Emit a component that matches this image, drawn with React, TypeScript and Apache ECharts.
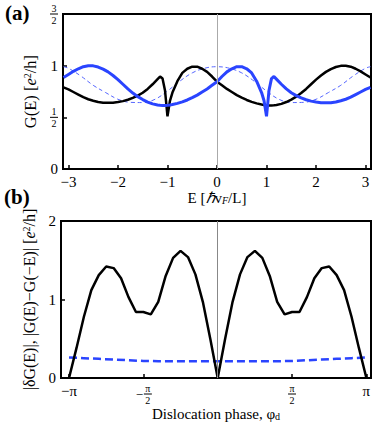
import React, { useEffect, useRef } from 'react';
import * as echarts from 'echarts';

const FONT = '"Liberation Serif", "Times New Roman", serif';

// ---------- Panel (a): conductance vs energy ----------
const energies = [
  -3.1, -3.0, -2.9, -2.8, -2.7, -2.6, -2.5, -2.4, -2.3, -2.2, -2.1, -2.0, -1.9, -1.8, -1.7, -1.6, -1.5, -1.4, -1.3,
  -1.2, -1.15, -1.1, -1.05, -1.0, -0.95, -0.9,
  -0.8, -0.7, -0.6, -0.5, -0.4, -0.3, -0.2, -0.1,
  0,
  0.1, 0.2, 0.3, 0.4, 0.5, 0.6, 0.7, 0.8,
  0.9, 0.95, 1.0, 1.05, 1.1, 1.15, 1.2,
  1.3, 1.4, 1.5, 1.6, 1.7, 1.8, 1.9, 2.0, 2.1, 2.2, 2.3, 2.4, 2.5, 2.6, 2.7, 2.8, 2.9, 3.0, 3.1,
];
const gBlack = [
  0.79, 0.77, 0.745, 0.72, 0.695, 0.675, 0.66, 0.648, 0.642, 0.64, 0.642, 0.648, 0.657, 0.67, 0.688, 0.71, 0.738, 0.775, 0.82,
  0.87, 0.895, 0.875, 0.76, 0.51, 0.66, 0.74,
  0.85, 0.93, 0.97, 0.99, 0.99, 0.97, 0.94, 0.895,
  0.845,
  0.81, 0.775, 0.745, 0.715, 0.69, 0.668, 0.65, 0.635,
  0.624, 0.62, 0.617, 0.615, 0.615, 0.616, 0.62,
  0.63, 0.648, 0.672, 0.7, 0.735, 0.775, 0.82, 0.865, 0.905, 0.94, 0.967, 0.987, 0.998, 1.0, 0.99, 0.97, 0.945, 0.915, 0.885,
];
const gBlue = [
  0.885, 0.915, 0.945, 0.97, 0.99, 1.0, 0.998, 0.987, 0.967, 0.94, 0.905, 0.865, 0.82, 0.775, 0.735, 0.7, 0.672, 0.648, 0.63,
  0.62, 0.616, 0.615, 0.615, 0.617, 0.62, 0.624,
  0.635, 0.65, 0.668, 0.69, 0.715, 0.745, 0.775, 0.81,
  0.845,
  0.895, 0.94, 0.97, 0.99, 0.99, 0.97, 0.93, 0.85,
  0.74, 0.66, 0.51, 0.76, 0.875, 0.895, 0.87,
  0.82, 0.775, 0.738, 0.71, 0.688, 0.67, 0.657, 0.648, 0.642, 0.64, 0.642, 0.648, 0.66, 0.675, 0.695, 0.72, 0.745, 0.77, 0.79,
];
const energiesDashed = [
  -3.1, -3.0, -2.75, -2.5, -2.25, -2.0, -1.75, -1.5, -1.25, -1.0, -0.75, -0.5, -0.25, 0,
  0.25, 0.5, 0.75, 1.0, 1.25, 1.5, 1.75, 2.0, 2.25, 2.5, 2.75, 3.0, 3.1,
];
const gDashed = [
  0.99, 0.975, 0.9, 0.81, 0.74, 0.675, 0.645, 0.643, 0.675, 0.755, 0.85, 0.93, 0.975, 0.99,
  0.975, 0.93, 0.85, 0.755, 0.675, 0.643, 0.645, 0.675, 0.74, 0.81, 0.9, 0.975, 0.99,
];
const xTicksA = [-3, -2, -1, 0, 1, 2, 3];
const xTickLabelsA = ['−3', '−2', '−1', '0', '1', '2', '3'];
const yTicksA = [0, 0.5, 1, 1.5];
const yTickLabelsA = ['0', '1/2', '1', '3/2'];

// ---------- Panel (b): asymmetry vs dislocation phase (in units of π) ----------
const phaseOverPi = [
  -1, -0.95, -0.9, -0.85, -0.8, -0.75, -0.7, -0.65, -0.6, -0.55, -0.5, -0.45, -0.4, -0.35, -0.3, -0.25, -0.2, -0.15, -0.1, -0.05,
  0, 0.05, 0.1, 0.15, 0.2, 0.25, 0.3, 0.35, 0.4, 0.45, 0.5, 0.55, 0.6, 0.65, 0.7, 0.75, 0.8, 0.85, 0.9, 0.95, 1,
];
const deltaG = [
  0, 0.38, 0.78, 1.12, 1.31, 1.42, 1.4, 1.27, 1.03, 0.84, 0.84, 0.81, 0.97, 1.3, 1.53, 1.62, 1.54, 1.32, 0.97, 0.5,
  0, 0.5, 0.97, 1.32, 1.54, 1.62, 1.53, 1.3, 0.97, 0.81, 0.84, 0.84, 1.03, 1.27, 1.4, 1.42, 1.31, 1.12, 0.78, 0.38, 0,
];
const phaseDashed = [-1, -0.9, -0.8, -0.7, -0.6, -0.5, -0.4, -0.3, -0.2, -0.1, 0, 0.1, 0.2, 0.3, 0.4, 0.5, 0.6, 0.7, 0.8, 0.9, 1];
const asymG = [
  0.262, 0.253, 0.244, 0.235, 0.226, 0.217, 0.214, 0.214, 0.214, 0.214, 0.214,
  0.214, 0.214, 0.214, 0.214, 0.217, 0.226, 0.235, 0.244, 0.253, 0.262,
];
const xTicksB = [-1, -0.5, 0.5, 1];
const xTickLabelsB = ['−π', '−π/2', 'π/2', 'π'];
const yTicksB = [0, 1, 2];
const yTickLabelsB = ['0', '1', '2'];

const fracRich = {
  n: { fontFamily: FONT, fontSize: 10, lineHeight: 10, width: 8, align: 'center', color: '#000' },
  d: { fontFamily: FONT, fontSize: 10, lineHeight: 10, width: 8, align: 'center', color: '#000' },
  bar: { fontSize: 1, lineHeight: 2, width: 8, height: 1, backgroundColor: '#000' },
  sp: { fontFamily: FONT, fontSize: 10, lineHeight: 10, width: 9 },
  m: { fontFamily: FONT, fontSize: 13, lineHeight: 2, width: 9, align: 'center', color: '#000' },
};

function toRich(label: string): string {
  if (!label.includes('/')) return label;
  const minus = label.startsWith('−');
  const body = minus ? label.slice(1) : label;
  const [num, den] = body.split('/');
  if (minus) return `{sp| }{n|${num}}\n{m|−}{bar| }\n{sp| }{d|${den}}`;
  return `{n|${num}}\n{bar| }\n{d|${den}}`;
}

function pick(ticks: number[], labels: string[]) {
  return (v: number) => {
    const i = ticks.findIndex((t) => Math.abs(t - v) < 1e-6);
    return i >= 0 ? toRich(labels[i]) : '';
  };
}

function nameRich(size: number) {
  return {
    i: { fontFamily: FONT, fontSize: size, fontStyle: 'italic', color: '#000' },
    sup: { fontFamily: FONT, fontSize: 10, verticalAlign: 'top', lineHeight: size, color: '#000', padding: [0, 0, 6, 0] },
    sub: { fontFamily: FONT, fontSize: 10, fontStyle: 'italic', verticalAlign: 'bottom', lineHeight: size, color: '#000', padding: [6, 0, 0, 0] },
    subr: { fontFamily: FONT, fontSize: 10, verticalAlign: 'bottom', lineHeight: size, color: '#000', padding: [6, 0, 0, 0] },
  };
}

const baseLabel = { fontFamily: FONT, fontSize: 15, color: '#000' };
const tickStyle = { color: '#000', width: 1.5 };
const noLine = { show: false, onZero: false };

const option: any = {
  animation: false,
  backgroundColor: '#fff',
  grid: [
    { left: 63, top: 14, width: 308, height: 155, show: true, borderColor: '#000', borderWidth: 2, backgroundColor: 'transparent' },
    { left: 61, top: 221, width: 310, height: 157, show: true, borderColor: '#000', borderWidth: 2, backgroundColor: 'transparent' },
  ],
  xAxis: [
    {
      gridIndex: 0, type: 'value', min: -3.11, max: 3.11,
      axisLine: noLine, splitLine: { show: false },
      axisTick: { show: true, inside: true, length: 4, customValues: xTicksA, lineStyle: tickStyle },
      axisLabel: { ...baseLabel, margin: 5, customValues: xTicksA, formatter: pick(xTicksA, xTickLabelsA), rich: fracRich },
      name: 'E [{i|ℏ}v{sub|F}/L]', nameLocation: 'middle', nameGap: 19,
      nameTextStyle: { ...baseLabel, verticalAlign: 'top', rich: nameRich(15) },
    },
    {
      gridIndex: 1, type: 'value', min: -1.054, max: 1.031,
      axisLine: noLine, splitLine: { show: false },
      axisTick: { show: true, inside: true, length: 4, customValues: xTicksB, lineStyle: tickStyle },
      axisLabel: { ...baseLabel, margin: 5, customValues: xTicksB, formatter: pick(xTicksB, xTickLabelsB), rich: fracRich, verticalAlign: 'top' },
      name: 'Dislocation phase, φ{subr|d}', nameLocation: 'middle', nameGap: 26,
      nameTextStyle: { ...baseLabel, verticalAlign: 'top', rich: nameRich(15) },
    },
  ],
  yAxis: [
    {
      gridIndex: 0, type: 'value', min: 0, max: 1.5,
      axisLine: noLine, splitLine: { show: false },
      axisTick: { show: true, inside: true, length: 4, customValues: yTicksA, lineStyle: tickStyle },
      axisLabel: { ...baseLabel, margin: 5, customValues: yTicksA, formatter: pick(yTicksA, yTickLabelsA), rich: fracRich },
      name: 'G(E) [{i|e}{sup|2}/h]', nameLocation: 'middle', nameGap: 20,
      nameTextStyle: { ...baseLabel, fontSize: 16.5, rich: nameRich(16.5) },
    },
    {
      gridIndex: 1, type: 'value', min: 0, max: 2,
      axisLine: noLine, splitLine: { show: false },
      axisTick: { show: true, inside: true, length: 4, customValues: yTicksB, lineStyle: tickStyle },
      axisLabel: { ...baseLabel, margin: 5, customValues: yTicksB, formatter: pick(yTicksB, yTickLabelsB) },
      name: '|δG(E)|, |G(E)−G(−E)| [{i|e}{sup|2}/h]', nameLocation: 'middle', nameGap: 21,
      nameTextStyle: { ...baseLabel, fontSize: 16, rich: nameRich(16) },
    },
  ],
  graphic: [
    { type: 'text', left: 5, top: 2, style: { text: '(a)', font: `bold 21px ${FONT}`, fill: '#000' } },
    { type: 'text', left: 4, top: 186, style: { text: '(b)', font: `bold 21px ${FONT}`, fill: '#000' } },
  ],
  series: [
    {
      type: 'line', xAxisIndex: 0, yAxisIndex: 0, data: [], symbol: 'none', z: 1, silent: true,
      markLine: { silent: true, symbol: 'none', label: { show: false }, lineStyle: { color: '#aaa', width: 1, type: 'solid' }, data: [{ xAxis: 0 }] },
    },
    {
      type: 'line', xAxisIndex: 0, yAxisIndex: 0, symbol: 'none', z: 2,
      data: energiesDashed.map((e, i) => [e, gDashed[i]]), smooth: 0.4,
      lineStyle: { color: '#5566ff', width: 1, type: [4, 3] },
    },
    {
      type: 'line', xAxisIndex: 0, yAxisIndex: 0, symbol: 'none', z: 3,
      data: energies.map((e, i) => [e, gBlack[i]]),
      lineStyle: { color: '#000', width: 2.5 },
    },
    {
      type: 'line', xAxisIndex: 0, yAxisIndex: 0, symbol: 'none', z: 4,
      data: energies.map((e, i) => [e, gBlue[i]]),
      lineStyle: { color: '#2a44ff', width: 3 },
    },
    {
      type: 'line', xAxisIndex: 1, yAxisIndex: 1, data: [], symbol: 'none', z: 1, silent: true,
      markLine: { silent: true, symbol: 'none', label: { show: false }, lineStyle: { color: '#888', width: 1, type: 'solid' }, data: [{ xAxis: 0 }] },
    },
    {
      type: 'line', xAxisIndex: 1, yAxisIndex: 1, symbol: 'none', z: 3,
      data: phaseOverPi.map((p, i) => [p, deltaG[i]]),
      lineStyle: { color: '#000', width: 2.5 },
    },
    {
      type: 'line', xAxisIndex: 1, yAxisIndex: 1, symbol: 'none', z: 2,
      data: phaseDashed.map((p, i) => [p, asymG[i]]),
      lineStyle: { color: '#2a44ff', width: 2.5, type: [8, 4] },
    },
  ],
};

export default function App() {
  const ref = useRef<HTMLDivElement>(null);
  useEffect(() => {
    document.body.style.margin = '0';
    const chart = echarts.init(ref.current!, null, { renderer: 'svg' });
    chart.setOption(option);
    return () => chart.dispose();
  }, []);
  return <div ref={ref} style={{ width: 374, height: 431 }} />;
}
